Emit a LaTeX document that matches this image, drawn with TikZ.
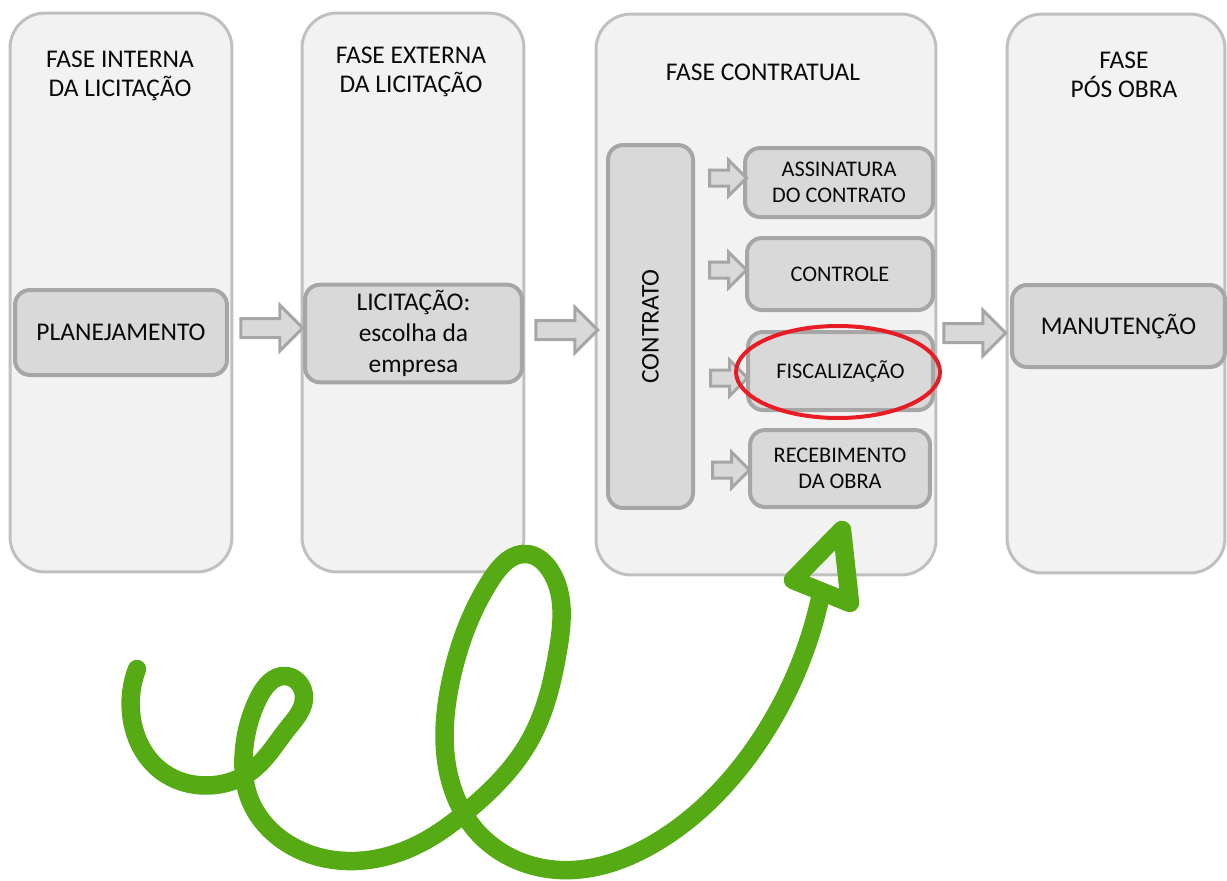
\documentclass[tikz,border=0pt]{standalone}
\usepackage{fontspec}
\setmainfont{Carlito}
\usepackage{xcolor}
\usepackage{tikz}
\usetikzlibrary{shapes.arrows, hobby}
\definecolor{panelgray}{RGB}{242, 242, 242}
\definecolor{panelline}{RGB}{192, 192, 192}
\definecolor{boxgray}{RGB}{217, 217, 217}
\definecolor{boxline}{RGB}{166, 166, 166}
\definecolor{inkgreen}{RGB}{86, 171, 20}
\definecolor{markred}{RGB}{232, 28, 36}
\definecolor{ink}{RGB}{10, 10, 10}

\begin{document}
\begin{tikzpicture}[x = 0.02cm, y = -0.02cm,
	panel/.style = {rectangle, rounded corners = 0.7cm, draw = panelline, line width = 0.06cm, fill = panelgray},
	box/.style = {rectangle, rounded corners = 0.3cm, draw = boxline, line width = 0.08cm, fill = boxgray, text = ink, align = center, font = \fontsize{14.5}{17.5}\selectfont},
	smallbox/.style = {box, font = \fontsize{12.7}{15}\selectfont},
	title/.style = {text = ink, align = center, font = \fontsize{14.5}{16.5}\selectfont},
	bigarrow/.style = {single arrow, draw = boxline, line width = 0.06cm, fill = boxgray, inner xsep = 0pt, inner ysep = 0.16cm, single arrow head extend = 0.27cm, minimum height = 1.24cm},
	smallarrow/.style = {bigarrow, inner ysep = 0.13cm, single arrow head extend = 0.2cm, minimum height = 0.74cm},
	curly/.style = {draw = inkgreen, line width = 0.37cm, line cap = round, line join = round}]
			\useasboundingbox (0,0) rectangle (1227,880);
			% the four phases
			\node (pint) at (121,292.5) [panel, minimum width = 4.44cm, minimum height = 11.18cm] {};
			\node (pext) at (413,292.5) [panel, minimum width = 4.44cm, minimum height = 11.18cm] {};
			\node (pcon) at (766,294.5) [panel, minimum width = 6.8cm, minimum height = 11.22cm] {};
			\node (ppos) at (1116,293.5) [panel, minimum width = 4.36cm, minimum height = 11.18cm] {};
			\node (tint) at (120,76) [title] {FASE INTERNA\\DA LICITAÇÃO};
			\node (text) at (411,72) [title] {FASE EXTERNA\\DA LICITAÇÃO};
			\node (tcon) at (763,72) [title] {FASE CONTRATUAL};
			\node (tpos) at (1124,74.5) [title] {FASE\\PÓS OBRA};
			% steps
			\node (plan) at (121,332.5) [box, minimum width = 4.24cm, minimum height = 1.7cm] {PLANEJAMENTO};
			\node (lic) at (413.5,333.5) [box, minimum width = 4.34cm, minimum height = 1.94cm] {LICITAÇÃO:\\escolha da\\empresa};
			\node (contr) at (650.5,326.5) [box, rotate = 90, minimum width = 7.26cm, minimum height = 1.7cm] {CONTRATO};
			\node (assin) at (839,182.5) [smallbox, minimum width = 3.76cm, minimum height = 1.38cm] {ASSINATURA\\DO CONTRATO};
			\node (ctrl) at (840,274) [smallbox, minimum width = 3.72cm, minimum height = 1.44cm] {CONTROLE};
			\node (fisc) at (840.5,371) [smallbox, minimum width = 3.7cm, minimum height = 1.56cm] {FISCALIZAÇÃO};
			\node (receb) at (840,468.5) [smallbox, minimum width = 3.6cm, minimum height = 1.54cm] {RECEBIMENTO\\DA OBRA};
			\node (manut) at (1118.5,326) [box, minimum width = 4.26cm, minimum height = 1.64cm] {MANUTENÇÃO};
			% block arrows
			\node (a1) at (267,328) [bigarrow] {};
			\node (a2) at (562,330) [bigarrow] {};
			\node (a3) at (970,333) [bigarrow] {};
			\node (s1) at (724,178) [smallarrow] {};
			\node (s2) at (724,270) [smallarrow] {};
			\node (s3) at (725,378) [smallarrow] {};
			\node (s4) at (727,470) [smallarrow] {};
			% highlight
			\draw [markred, line width = 0.08cm] (838,372) ellipse [x radius = 2.04cm, y radius = 0.92cm];
			% green scribble
			\draw [curly, use Hobby shortcut] (137,669) .. (132,720) .. (160,770) .. (215,785)
				.. (250,772) .. (288,728) .. (304,698) .. (286,676) .. (259,697) .. (244,750)
				.. (250,800) .. (290,845) .. (355,861) .. (430,838) .. (466,812) .. (530,740)
				.. (558,650) .. (550,570) .. (527,554) .. (492,578) .. (451,680) .. (450,780)
				.. (480,835) .. (560,870) .. (660,840) .. (760,740) .. (821,594);
			\draw [curly] (842,530) -- (793,580) -- (850,603) -- cycle;
			\end{tikzpicture}
\end{document}
